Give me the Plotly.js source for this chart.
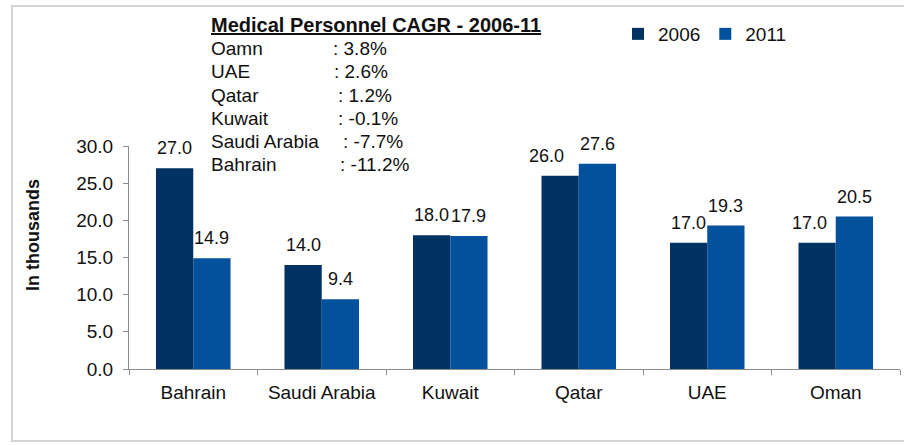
<!DOCTYPE html>
<html>
<head>
<meta charset="utf-8">
<script src="https://cdn.plot.ly/plotly-3.0.1.min.js"></script>
<style>
  html, body { margin: 0; padding: 0; background: #ffffff; }
  #chart { width: 904px; height: 445px; }
</style>
</head>
<body>
<div id="chart"></div>
<script>
// ---- data ----
const countries = ["Bahrain", "Saudi Arabia", "Kuwait", "Qatar", "UAE", "Oman"];
const values2006 = [27.0, 14.0, 18.0, 26.0, 17.0, 17.0];
const values2011 = [14.9, 9.4, 17.9, 27.6, 19.3, 20.5];
const seriesNames = ["2006", "2011"];
const cagrTitle = "Medical Personnel CAGR - 2006-11";
const cagrNames = ["Oamn", "UAE", "Qatar", "Kuwait", "Saudi Arabia", "Bahrain"];
const cagrValues = [": 3.8%", ": 2.6%", ": 1.2%", ": -0.1%", ": -7.7%", ": -11.2%"];
const yTicks = [0, 5, 10, 15, 20, 25, 30];
const yTitle = "In thousands";

// ---- style ----
const W = 904, H = 445;
const M = { l: 129, r: 4, t: 146, b: 76 };
const PW = W - M.l - M.r, PH = H - M.t - M.b;
const px2x = px => (px - M.l) / PW;
const py2y = py => (H - M.b - py) / PH;
const FONT = "Liberation Sans, Arial, sans-serif";
const colors = ["#023263", "#01519C"];
const txtColor = "#111111";

const traces = [values2006, values2011].map((vals, i) => ({
  type: "bar",
  name: seriesNames[i],
  x: countries,
  y: vals,
  marker: { color: colors[i], line: { width: 0 } },
  hoverinfo: "skip"
}));

const annotations = [];
// data labels
const barHalf = 18.6;
const nudge2006 = { "Qatar": -14, "Oman": -8 };
countries.forEach((c, k) => {
  [values2006, values2011].forEach((vals, i) => {
    annotations.push({
      x: c, y: vals[k], xref: "x", yref: "y",
      text: vals[k].toFixed(1),
      showarrow: false, xanchor: "center", yanchor: "bottom",
      xshift: (i === 0 ? -barHalf : barHalf) + (i === 0 ? (nudge2006[c] || 0) : 0),
      yshift: 8,
      font: { family: FONT, size: 18, color: txtColor }
    });
  });
});
// CAGR text block
annotations.push({
  xref: "paper", yref: "paper", x: px2x(209), y: py2y(25),
  xanchor: "left", yanchor: "middle", showarrow: false,
  text: "<b>" + cagrTitle + "</b>",
  font: { family: FONT, size: 20, color: txtColor, lineposition: "under" }
});
const rowY = [48, 72, 95, 118, 141, 164];
const colonX = [331, 332, 336, 336, 341, 338];
cagrNames.forEach((n, i) => {
  annotations.push({
    xref: "paper", yref: "paper", x: px2x(209), y: py2y(rowY[i]),
    xanchor: "left", yanchor: "middle", showarrow: false, text: n,
    font: { family: FONT, size: 19, color: txtColor }
  });
  annotations.push({
    xref: "paper", yref: "paper", x: px2x(colonX[i]), y: py2y(rowY[i]),
    xanchor: "left", yanchor: "middle", showarrow: false, text: cagrValues[i],
    font: { family: FONT, size: 19, color: txtColor }
  });
});
// y-axis title (placed like the reference, above the axis centre)
annotations.push({
  xref: "paper", yref: "paper", x: px2x(33), y: py2y(235),
  xanchor: "center", yanchor: "middle", showarrow: false, textangle: -90,
  text: "<b>" + yTitle + "</b>",
  font: { family: FONT, size: 18, color: txtColor }
});

const layout = {
  width: W, height: H,
  margin: M,
  paper_bgcolor: "#ffffff",
  plot_bgcolor: "#ffffff",
  font: { family: FONT, size: 18, color: txtColor },
  barmode: "group",
  bargap: 0.42,
  bargroupgap: 0,
  showlegend: true,
  legend: {
    orientation: "h",
    xref: "container", yref: "container",
    x: 618 / W, y: 1 - 15 / H,
    xanchor: "left", yanchor: "top",
    font: { family: FONT, size: 19, color: txtColor },
    bgcolor: "rgba(0,0,0,0)",
    traceorder: "normal",
    itemclick: false
  },
  xaxis: {
    type: "category",
    categoryorder: "array",
    categoryarray: countries,
    showline: true, linecolor: "#8c8c8c", linewidth: 1,
    ticks: "outside", tickson: "boundaries", ticklen: 5, tickcolor: "#8c8c8c",
    ticklabelstandoff: 6,
    showgrid: false, zeroline: false,
    tickfont: { family: FONT, size: 19, color: txtColor },
    fixedrange: true
  },
  yaxis: {
    range: [0, 30],
    tickvals: yTicks,
    ticktext: yTicks.map(v => v.toFixed(1)),
    showline: true, linecolor: "#8c8c8c", linewidth: 1,
    ticks: "outside", ticklen: 5, tickcolor: "#8c8c8c",
    ticklabelstandoff: 6,
    showgrid: false, zeroline: false,
    tickfont: { family: FONT, size: 19, color: txtColor },
    fixedrange: true
  },
  shapes: [{
    type: "rect", xref: "paper", yref: "paper",
    x0: px2x(12), x1: px2x(930), y0: py2y(441), y1: py2y(6),
    line: { color: "#d4d4d4", width: 2 }, fillcolor: "rgba(0,0,0,0)", layer: "below"
  }],
  annotations: annotations
};

Plotly.newPlot("chart", traces, layout, { displayModeBar: false, staticPlot: true });
</script>
</body>
</html>
